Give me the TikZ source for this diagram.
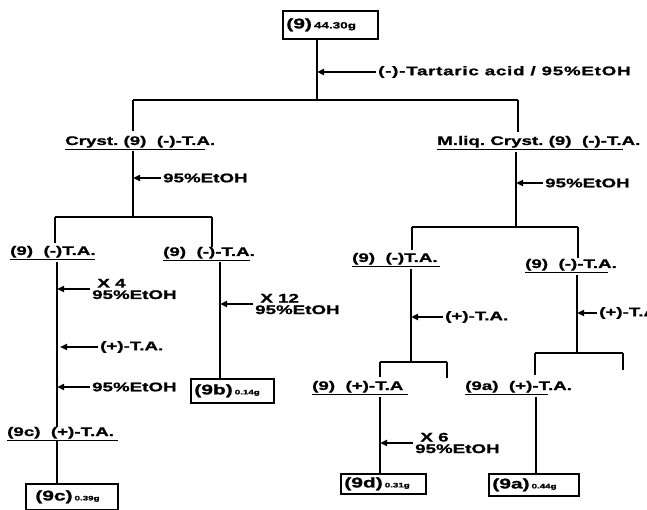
\documentclass[tikz,border=0pt]{standalone}
\usepackage{fontspec}
\usetikzlibrary{arrows.meta,positioning}
\newfontfamily\chem[FakeStretch=1.5, BoldFeatures={FakeBold=1.2}]{Liberation Sans}
\tikzset{
  lbl/.style={font=\chem\bfseries\fontsize{12.5}{13}\selectfont, inner sep=0pt, anchor=base west},
  feedlbl/.style={lbl, anchor=west, inner xsep=2pt},
  note/.style={feedlbl, align=left, font=\chem\bfseries\fontsize{12.5}{11.5}\selectfont},
  res/.style={draw, line width=1.6pt, inner xsep=3pt, inner ysep=0pt, anchor=north west,
    align=left, font=\chem\bfseries},
  tree/.style={line width=1.9pt},
  uline/.style={line width=1.5pt},
  feed/.style={-{Triangle[length=7pt,width=6pt]}, line width=2pt},
}
\newcommand{\yld}[3][6.5]{{\fontsize{14}{14}\selectfont #2}\hspace{2pt}{\fontsize{#1}{#1}\selectfont #3}}
\newcommand{\ulab}[5]{%
  \node[lbl] (#1) at (#2,#3) {#5};
  \draw[uline] ([yshift=-4.5pt]#1.base west) -- ++(#4,0);}

\begin{document}
\begin{tikzpicture}[x=1pt,y=-1pt]
  \useasboundingbox (0,0) rectangle (647,510);
  % crude (9)
  \node[res, minimum width=95pt, minimum height=28pt, text width=88pt] (s9) at (282,10) {\yld[9]{(9)}{44.30g}};
  \coordinate (j0) at (317,100);
  \draw[tree] (s9.south -| j0) -- (j0);
  \node[feedlbl] (f0) at (376,72) {\addfontfeatures{LetterSpace=6}(-)-Tartaric acid / 95\%EtOH};
  \draw[feed] (f0.west) -- (f0.west -| j0);
  \coordinate (j0L) at (133,100);
  \coordinate (j0R) at (518,100);
  \draw[tree] (j0L) -- (j0R);
  \draw[tree] (j0L) -- ++(0,31);
  \draw[tree] (j0R) -- ++(0,32);
  \ulab{cr}{65}{145}{140}{Cryst.\ (9)\ \ (-)-T.A.}
  \ulab{ml}{437}{145}{186}{M.liq.\ Cryst.\ (9)\ \ (-)-T.A.}

  % left: crystals
  \coordinate (j1) at (133,217);
  \draw[tree] (j1) -- ++(0,-66);
  \node[feedlbl] (f1) at (161,178) {95\%EtOH};
  \draw[feed] (f1.west) -- (f1.west -| j1);
  \coordinate (j1L) at (55,217);
  \coordinate (j1R) at (212,217);
  \draw[tree] (j1L) -- (j1R);
  \draw[tree] (j1L) -- ++(0,26);
  \draw[tree] (j1R) -- ++(0,30);
  \ulab{la}{10}{255}{85}{(9)\ \ (-)T.A.}
  \ulab{lb}{163}{256}{87}{(9)\ \ (-)-T.A.}

  \coordinate (k1) at (57,262);
  \node[note] (f2) at (90,289) {\ X 4\\95\%EtOH};
  \node[feedlbl] (f3) at (98,347) {(+)-T.A.};
  \node[feedlbl] (f4) at (90,387) {95\%EtOH};
  \ulab{lc}{7}{436}{111}{(9c)\ \ (+)-T.A.}
  \node[res, minimum width=92pt, minimum height=26pt, text width=85pt] (b9c) at (25,483) {\hspace{6pt}\yld{(9c)}{0.39g}};
  \draw[tree] (k1) -- (k1 |- lc.north);
  \draw[tree] ([yshift=-4.5pt]lc.base -| k1) -- (b9c.north -| k1);
  \draw[feed] (f2.west) -- (f2.west -| k1);
  \draw[feed] (f3.west) -- ([xshift=3pt]f3.west -| k1);
  \draw[feed] (f4.west) -- (f4.west -| k1);

  \coordinate (k2) at (220,262);
  \node[note] (f5) at (253,304) {\ X 12\\95\%EtOH};
  \node[res, minimum width=83pt, minimum height=24pt, text width=76pt] (b9b) at (190,378) {\yld{(9b)}{0.14g}};
  \draw[tree] (k2) -- (k2 |- b9b.north);
  \draw[feed] (f5.west) -- (f5.west -| k2);

  % right: mother liquor
  \coordinate (j2) at (516,227);
  \draw[tree] (j2) -- ++(0,-75);
  \node[feedlbl] (f6) at (543,183) {95\%EtOH};
  \draw[feed] (f6.west) -- (f6.west -| j2);
  \coordinate (j2L) at (412,227);
  \coordinate (j2R) at (578,227);
  \draw[tree] (j2L) -- (j2R);
  \draw[tree] (j2L) -- ++(0,23);
  \draw[tree] (j2R) -- ++(0,31);
  \ulab{ra}{352}{262}{88}{(9)\ \ (-)T.A.}
  \ulab{rb}{525}{268}{83}{(9)\ \ (-)-T.A.}

  \coordinate (j3) at (411,362);
  \draw[tree] (j3) -- ++(0,-93);
  \node[feedlbl] (f7) at (443,317) {(+)-T.A.};
  \draw[feed] (f7.west) -- (f7.west -| j3);
  \coordinate (j3L) at (380,362);
  \coordinate (j3R) at (447,362);
  \draw[tree] (j3L) -- (j3R);
  \draw[tree] (j3L) -- ++(0,15);
  \draw[tree] (j3R) -- ++(0,16);
  \ulab{rc}{312}{390}{96}{(9)\ \ (+)-T.A}

  \coordinate (k3) at (380,397);
  \node[note] (f8) at (413,443) {\ X 6\\95\%EtOH};
  \node[res, minimum width=85pt, minimum height=20pt, text width=78pt] (b9d) at (340,473) {\yld{(9d)}{0.31g}};
  \draw[tree] (k3) -- (k3 |- b9d.north);
  \draw[feed] (f8.west) -- (f8.west -| k3);

  \coordinate (j4) at (577,353);
  \draw[tree] (j4) -- ++(0,-78);
  \node[feedlbl] (f9) at (597,313) {(+)-T.A.};
  \draw[feed] (f9.west) -- (f9.west -| j4);
  \coordinate (j4L) at (535,353);
  \coordinate (j4R) at (623,353);
  \draw[tree] (j4L) -- (j4R);
  \draw[tree] (j4L) -- ++(0,22);
  \draw[tree] (j4R) -- ++(0,17);
  \ulab{rd}{465}{390}{83}{(9a)\ \ (+)-T.A.}

  \coordinate (k4) at (536,397);
  \node[res, minimum width=90pt, minimum height=22pt, text width=83pt] (b9a) at (488,473) {\yld{(9a)}{0.44g}};
  \draw[tree] (k4) -- (k4 |- b9a.north);
\end{tikzpicture}
\end{document}
